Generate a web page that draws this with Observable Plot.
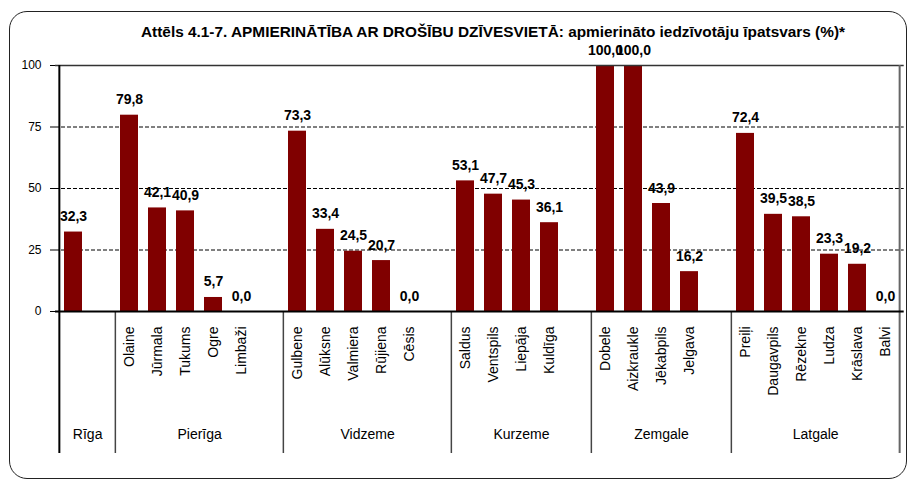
<!DOCTYPE html>
<html><head><meta charset="utf-8">
<script src="https://cdn.jsdelivr.net/npm/d3@7"></script>
<script src="https://cdn.jsdelivr.net/npm/@observablehq/plot@0.6"></script>
<style>
body{margin:0;background:#fff;}
#wrap{position:relative;width:907px;height:479px;overflow:hidden;font-family:"Liberation Sans",Arial,sans-serif;}
#chart{position:absolute;left:0;top:0;}
#frame{position:absolute;left:9px;top:11px;width:896px;height:466px;border:1px solid #222;border-radius:18px;pointer-events:none;}
#title{position:absolute;top:24px;left:0;white-space:nowrap;font-weight:bold;font-size:15px;line-height:15px;transform-origin:0 0;color:#000;}
</style></head><body>
<div id="wrap"><div id="chart"></div><div id="title"></div><div id="frame"></div></div>
<script>
const titleText = "Attēls 4.1-7. APMIERINĀTĪBA AR DROŠĪBU DZĪVESVIETĀ: apmierināto iedzīvotāju īpatsvars (%)*";
const categories = ["Rīga",
  "Olaine","Jūrmala","Tukums","Ogre","Limbaži",
  "Gulbene","Alūksne","Valmiera","Rūjiena","Cēsis",
  "Saldus","Ventspils","Liepāja","Kuldīga",
  "Dobele","Aizkraukle","Jēkabpils","Jelgava",
  "Preiļi","Daugavpils","Rēzekne","Ludza","Krāslava","Balvi"];
const regions = ["Rīga",
  "Pierīga","Pierīga","Pierīga","Pierīga","Pierīga",
  "Vidzeme","Vidzeme","Vidzeme","Vidzeme","Vidzeme",
  "Kurzeme","Kurzeme","Kurzeme","Kurzeme",
  "Zemgale","Zemgale","Zemgale","Zemgale",
  "Latgale","Latgale","Latgale","Latgale","Latgale","Latgale"];
const values = [32.3,
  79.8,42.1,40.9,5.7,0.0,
  73.3,33.4,24.5,20.7,0.0,
  53.1,47.7,45.3,36.1,
  100.0,100.0,43.9,16.2,
  72.4,39.5,38.5,23.3,19.2,0.0];
const regionNames = ["Rīga","Pierīga","Vidzeme","Kurzeme","Zemgale","Latgale"];
const yTicks = [0,25,50,75,100];
const gridTicks = [25,50,75];

// category slots (an empty slot closes every region except the last)
const slots = [];
categories.forEach((c,i)=>{
  if (i>0 && regions[i]!==regions[i-1]) slots.push({key:"·gap"+slots.length,label:"",region:regions[i-1],value:null});
  // a region that is a single town shows only its region label
  slots.push({key:c,label:(c===regions[i]?"":c),region:regions[i],value:values[i]});
});
const valued = slots.filter(d=>d.value!==null);
const labelOf = new Map(slots.map(d=>[d.key,d.label]));

const W=907,H=479,mL=55,mR=3.3,mT=65,mB=168;
const step=(W-mL-mR)/slots.length;
const below=142;

const regionStarts = regionNames.map(r=>slots.findIndex(s=>s.region===r));
const regionEnds = regionNames.map(r=>{let k=-1; slots.forEach((s,i)=>{if(s.region===r)k=i;}); return k;});

const regionMarks = regionNames.map((r,j)=>{
  const c=(regionStarts[j]+regionEnds[j]+1)/2;
  const k=Math.floor(c-0.5);
  const off=c-(k+0.5);
  return Plot.text([r],{x:()=>slots[k].key,text:d=>d,frameAnchor:"bottom",dy:127.5,dx:off*step,fontSize:14,lineAnchor:"bottom",fill:"#000"});
});

const fmt = v => v.toFixed(1).replace(".",",");

const plot = Plot.plot({
  width:W,height:H,marginLeft:mL,marginRight:mR,marginTop:mT,marginBottom:mB,
  style:{background:"transparent",fontFamily:"'Liberation Sans',Arial,sans-serif",overflow:"visible"},
  x:{type:"band",domain:slots.map(d=>d.key),paddingInner:0.36,paddingOuter:0.18,label:null},
  y:{domain:[0,100],label:null},
  marks:[
    Plot.ruleY(gridTicks,{stroke:"#000",strokeDasharray:"4,2",strokeWidth:1}),
    Plot.barY(valued,{x:"key",y:"value",fill:"#800000"}),
    Plot.ruleY([100],{stroke:"#333",strokeWidth:1.5}),
    Plot.ruleX(regionStarts.slice(1).map(i=>slots[i].key),{dx:-step/2,y1:0,stroke:"#444",strokeWidth:1.5,insetBottom:-below}),
    Plot.ruleX([slots[slots.length-1].key],{dx:step/2,stroke:"#666",strokeWidth:2,insetBottom:-below}),
    Plot.ruleX([slots[0].key],{dx:-step/2,stroke:"#000",strokeWidth:2,insetBottom:-below}),
    Plot.ruleY([0],{stroke:"#000",strokeWidth:2}),
    Plot.text(valued,{x:"key",y:"value",text:d=>fmt(d.value),dy:-11,lineAnchor:"bottom",fontWeight:"bold",fontSize:14,fill:"#000"}),
    Plot.axisX({tickRotate:-90,tickSize:0,tickPadding:15,fontSize:14,tickFormat:k=>labelOf.get(k),fill:"#000",label:null}),
    Plot.axisY({ticks:yTicks,tickSize:5,tickPadding:9,fontSize:12,tickFormat:d=>String(d),fill:"#000",stroke:"#000",label:null}),
    ...regionMarks
  ]
});
document.getElementById("chart").appendChild(plot);

const t=document.getElementById("title");
t.textContent=titleText;
const w=t.getBoundingClientRect().width;
const target=704, cx=493;
t.style.left=(cx-target/2)+"px";
t.style.transform="scaleX("+(target/w)+")";
</script>
</body></html>
